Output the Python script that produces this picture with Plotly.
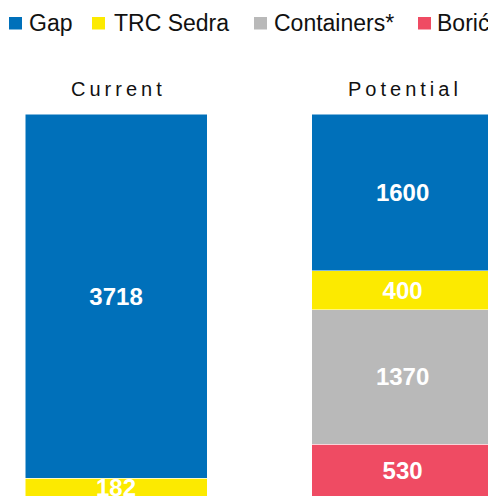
import plotly.graph_objects as go

categories = ["Current", "Potential"]
category_labels = ["C\u2009u\u2009r\u2009r\u2009e\u2009n\u2009t", "P\u2009o\u2009t\u2009e\u2009n\u2009t\u2009i\u2009a\u2009l"]

# stacked bottom -> top
boric = [0, 530]
containers = [0, 1370]
trc_sedra = [182, 400]
gap = [3718, 1600]

COLORS = {
    "Gap": "#0070BA",
    "TRC Sedra": "#FCEA00",
    "Containers*": "#B9B9B9",
    "Borići": "#EF4B63",
}

W, H = 496, 489
TOP, BOTTOM = 106, 1
PLOT_H = H - TOP - BOTTOM

FONT = "Liberation Sans, Arial, sans-serif"


def py_to_paper(py):
    return (H - BOTTOM - py) / PLOT_H


fig = go.Figure()

for name, values in [
    ("Borići", boric),
    ("Containers*", containers),
    ("TRC Sedra", trc_sedra),
    ("Gap", gap),
]:
    fig.add_trace(
        go.Bar(
            x=categories,
            y=values,
            name=name,
            width=0.635,
            marker=dict(color=COLORS[name], line=dict(color="white", width=0.5)),
            text=[str(v) if v else "" for v in values],
            textposition="inside",
            insidetextanchor="middle",
            textfont=dict(family=FONT, size=24, color="white", weight="bold"),
            showlegend=False,
            hoverinfo="skip",
        )
    )

# category labels above the bars
for cat, label in zip(categories, category_labels):
    fig.add_annotation(
        x=cat, y=py_to_paper(80.5), xref="x", yref="paper",
        text=label, showarrow=False, yanchor="middle",
        font=dict(family=FONT, size=20, color="#111"),
    )

# hand-made legend (squares + labels), runs off the right edge
legend_items = [
    ("Gap", 1, 19),
    ("TRC Sedra", 84, 104),
    ("Containers*", 246, 264),
    ("Borići", 410, 427),
]
for name, sq_x, txt_x in legend_items:
    fig.add_shape(
        type="rect", xref="paper", yref="paper",
        x0=sq_x / W, x1=(sq_x + 13) / W,
        y0=py_to_paper(21.5), y1=py_to_paper(9),
        fillcolor=COLORS[name], line=dict(width=0),
    )
    fig.add_annotation(
        x=txt_x / W, y=py_to_paper(15), xref="paper", yref="paper",
        text=name, showarrow=False, xanchor="left", yanchor="middle",
        font=dict(family=FONT, size=23, color="#111"),
    )

fig.update_layout(
    width=W,
    height=H,
    barmode="stack",
    margin=dict(l=0, r=0, t=TOP, b=BOTTOM, pad=0),
    paper_bgcolor="white",
    plot_bgcolor="white",
    uniformtext=dict(minsize=24, mode="show"),
    showlegend=False,
)
fig.update_xaxes(range=[-0.377, 1.354], visible=False)
fig.update_yaxes(range=[0, 3900], visible=False)

fig.write_html("out.html")
